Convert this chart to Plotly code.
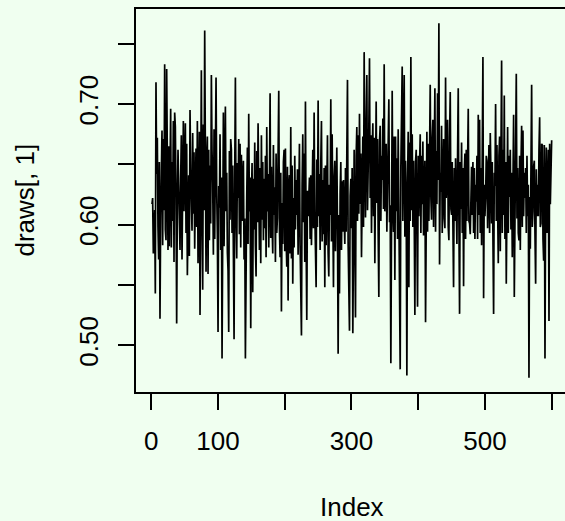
import plotly.graph_objects as go

# draws[, 1] trace values (index 1..600)
draws_1_100 = [
    0.617, 0.622, 0.576, 0.596, 0.612, 0.543, 0.718, 0.642, 0.672, 0.598,
    0.571, 0.652, 0.522, 0.606, 0.648, 0.678, 0.583, 0.671, 0.612, 0.733,
    0.596, 0.587, 0.729, 0.628, 0.579, 0.665, 0.582, 0.641, 0.696, 0.581,
    0.652, 0.603, 0.686, 0.569, 0.693, 0.681, 0.624, 0.518, 0.617, 0.662,
    0.633, 0.592, 0.579, 0.638, 0.674, 0.571, 0.658, 0.686, 0.611, 0.647,
    0.684, 0.593, 0.667, 0.558, 0.621, 0.641, 0.574, 0.695, 0.646, 0.618,
    0.595, 0.676, 0.609, 0.660, 0.580, 0.629, 0.663, 0.598, 0.686, 0.568,
    0.641, 0.677, 0.525, 0.648, 0.728, 0.603, 0.546, 0.683, 0.612, 0.761,
    0.638, 0.561, 0.655, 0.673, 0.559, 0.662, 0.587, 0.649, 0.601, 0.724,
    0.661, 0.634, 0.575, 0.679, 0.588, 0.645, 0.722, 0.627, 0.592, 0.511,
]
draws_101_200 = [
    0.632, 0.614, 0.675, 0.579, 0.639, 0.489, 0.647, 0.693, 0.582, 0.668,
    0.698, 0.611, 0.643, 0.577, 0.562, 0.511, 0.661, 0.604, 0.671, 0.662,
    0.593, 0.649, 0.584, 0.505, 0.641, 0.722, 0.606, 0.572, 0.651, 0.622,
    0.671, 0.592, 0.667, 0.581, 0.658, 0.603, 0.636, 0.653, 0.571, 0.605,
    0.489, 0.590, 0.623, 0.664, 0.584, 0.692, 0.611, 0.639, 0.514, 0.622,
    0.651, 0.544, 0.638, 0.596, 0.668, 0.583, 0.557, 0.661, 0.602, 0.684,
    0.612, 0.579, 0.647, 0.568, 0.674, 0.604, 0.652, 0.587, 0.638, 0.597,
    0.657, 0.573, 0.681, 0.611, 0.642, 0.581, 0.633, 0.709, 0.589, 0.648,
    0.601, 0.576, 0.666, 0.608, 0.631, 0.569, 0.659, 0.593, 0.606, 0.654,
    0.711, 0.597, 0.573, 0.643, 0.528, 0.618, 0.584, 0.652, 0.662, 0.578,
]
draws_201_300 = [
    0.663, 0.589, 0.565, 0.648, 0.537, 0.631, 0.641, 0.576, 0.681, 0.572,
    0.649, 0.551, 0.622, 0.581, 0.657, 0.596, 0.637, 0.608, 0.646, 0.575,
    0.638, 0.667, 0.583, 0.551, 0.508, 0.633, 0.675, 0.602, 0.659, 0.569,
    0.702, 0.586, 0.521, 0.628, 0.607, 0.622, 0.639, 0.588, 0.641, 0.583,
    0.652, 0.662, 0.597, 0.693, 0.611, 0.578, 0.548, 0.654, 0.598, 0.703,
    0.607, 0.642, 0.579, 0.651, 0.686, 0.586, 0.637, 0.592, 0.647, 0.548,
    0.649, 0.583, 0.656, 0.674, 0.577, 0.557, 0.633, 0.608, 0.704, 0.586,
    0.675, 0.593, 0.548, 0.639, 0.653, 0.578, 0.658, 0.664, 0.597, 0.493,
    0.608, 0.543, 0.627, 0.652, 0.579, 0.636, 0.594, 0.637, 0.606, 0.584,
    0.647, 0.594, 0.658, 0.720, 0.583, 0.548, 0.512, 0.624, 0.638, 0.597,
]
draws_301_400 = [
    0.647, 0.510, 0.623, 0.662, 0.588, 0.523, 0.657, 0.681, 0.603, 0.674,
    0.609, 0.692, 0.617, 0.659, 0.573, 0.667, 0.673, 0.598, 0.743, 0.651,
    0.606, 0.681, 0.724, 0.612, 0.638, 0.680, 0.738, 0.622, 0.674, 0.593,
    0.661, 0.684, 0.607, 0.672, 0.568, 0.653, 0.702, 0.618, 0.671, 0.593,
    0.540, 0.669, 0.682, 0.603, 0.657, 0.637, 0.688, 0.613, 0.733, 0.611,
    0.657, 0.667, 0.594, 0.648, 0.672, 0.704, 0.602, 0.616, 0.485, 0.643,
    0.711, 0.612, 0.594, 0.673, 0.554, 0.673, 0.611, 0.655, 0.588, 0.679,
    0.607, 0.504, 0.480, 0.648, 0.682, 0.731, 0.603, 0.676, 0.724, 0.590,
    0.653, 0.617, 0.475, 0.633, 0.677, 0.548, 0.668, 0.603, 0.739, 0.612,
    0.675, 0.598, 0.653, 0.607, 0.525, 0.652, 0.662, 0.598, 0.532, 0.657,
]
draws_401_500 = [
    0.607, 0.648, 0.675, 0.593, 0.657, 0.617, 0.669, 0.591, 0.647, 0.653,
    0.519, 0.652, 0.677, 0.594, 0.667, 0.603, 0.663, 0.716, 0.622, 0.604,
    0.672, 0.687, 0.598, 0.658, 0.713, 0.594, 0.661, 0.617, 0.709, 0.637,
    0.767, 0.567, 0.643, 0.627, 0.682, 0.593, 0.667, 0.671, 0.605, 0.597,
    0.722, 0.622, 0.643, 0.687, 0.598, 0.587, 0.672, 0.710, 0.613, 0.608,
    0.652, 0.593, 0.548, 0.647, 0.603, 0.655, 0.592, 0.584, 0.657, 0.713,
    0.603, 0.526, 0.652, 0.613, 0.668, 0.593, 0.647, 0.549, 0.642, 0.659,
    0.588, 0.662, 0.603, 0.667, 0.696, 0.603, 0.601, 0.592, 0.647, 0.648,
    0.608, 0.652, 0.593, 0.647, 0.588, 0.633, 0.619, 0.657, 0.588, 0.691,
    0.608, 0.687, 0.593, 0.647, 0.583, 0.652, 0.739, 0.539, 0.633, 0.607,
]
draws_501_600 = [
    0.622, 0.657, 0.653, 0.597, 0.662, 0.666, 0.593, 0.676, 0.643, 0.601,
    0.652, 0.593, 0.526, 0.643, 0.632, 0.700, 0.603, 0.666, 0.633, 0.568,
    0.657, 0.673, 0.578, 0.643, 0.736, 0.593, 0.662, 0.608, 0.707, 0.588,
    0.652, 0.551, 0.648, 0.681, 0.593, 0.657, 0.623, 0.662, 0.596, 0.643,
    0.573, 0.657, 0.691, 0.540, 0.637, 0.643, 0.725, 0.605, 0.647, 0.593,
    0.587, 0.657, 0.579, 0.648, 0.682, 0.598, 0.678, 0.607, 0.643, 0.622,
    0.647, 0.593, 0.657, 0.607, 0.633, 0.473, 0.623, 0.580, 0.657, 0.716,
    0.598, 0.611, 0.648, 0.653, 0.593, 0.551, 0.646, 0.607, 0.633, 0.607,
    0.662, 0.689, 0.598, 0.601, 0.667, 0.666, 0.588, 0.570, 0.666, 0.489,
    0.627, 0.664, 0.593, 0.662, 0.662, 0.520, 0.667, 0.617, 0.653, 0.670,
]

draws = (draws_1_100 + draws_101_200 + draws_201_300 +
         draws_301_400 + draws_401_500 + draws_501_600)
index = list(range(1, len(draws) + 1))

x_tickvals = [0, 100, 200, 300, 400, 500, 600]
x_ticktext = ["0", "100", "", "300", "", "500", ""]
y_tickvals = [0.50, 0.55, 0.60, 0.65, 0.70, 0.75]
y_ticktext = ["0.50", "", "0.60", "", "0.70", ""]

x_label = "Index"
y_label = "draws[, 1]"

# R-style 4% axis padding
ymin, ymax = min(draws), max(draws)
ypad = 0.04 * (ymax - ymin)
xmin, xmax = index[0], index[-1]
xpad = 0.04 * (xmax - xmin)

BG = "#F0FFF0"
FONT = "Liberation Sans, Arial, Helvetica, sans-serif"

fig = go.Figure()
fig.add_trace(go.Scatter(
    x=index, y=draws, mode="lines",
    line=dict(color="black", width=1.7),
    hoverinfo="skip", showlegend=False,
))

fig.update_layout(
    width=565, height=521,
    margin=dict(l=136, r=0, t=9, b=129),
    paper_bgcolor=BG, plot_bgcolor=BG,
    font=dict(family=FONT, size=26, color="black"),
    xaxis=dict(
        range=[xmin - xpad, 620], showgrid=False, zeroline=False,
        showline=True, linecolor="black", linewidth=2, mirror=True,
        ticks="outside", ticklen=16, tickwidth=2, tickcolor="black",
        tickvals=x_tickvals, ticktext=x_ticktext,
        tickfont=dict(size=26), ticklabelstandoff=9,
    ),
    yaxis=dict(
        range=[ymin - ypad, ymax + ypad], showgrid=False, zeroline=False,
        showline=True, linecolor="black", linewidth=2, mirror=False,
        ticks="outside", ticklen=16, tickwidth=2, tickcolor="black",
        tickvals=y_tickvals, ticktext=y_ticktext, tickangle=-90,
        tickfont=dict(size=26), ticklabelstandoff=10,
    ),
    annotations=[
        dict(text=x_label, xref="paper", yref="paper",
             x=(352 - 136) / 429, y=-0.30, xanchor="center", yanchor="middle",
             showarrow=False, font=dict(size=26)),
        dict(text=y_label, xref="paper", yref="paper",
             x=-(136 - 24) / 429, y=0.5, xanchor="center", yanchor="middle",
             textangle=-90, showarrow=False, font=dict(size=26)),
    ],
)

fig.write_html("out.html")
